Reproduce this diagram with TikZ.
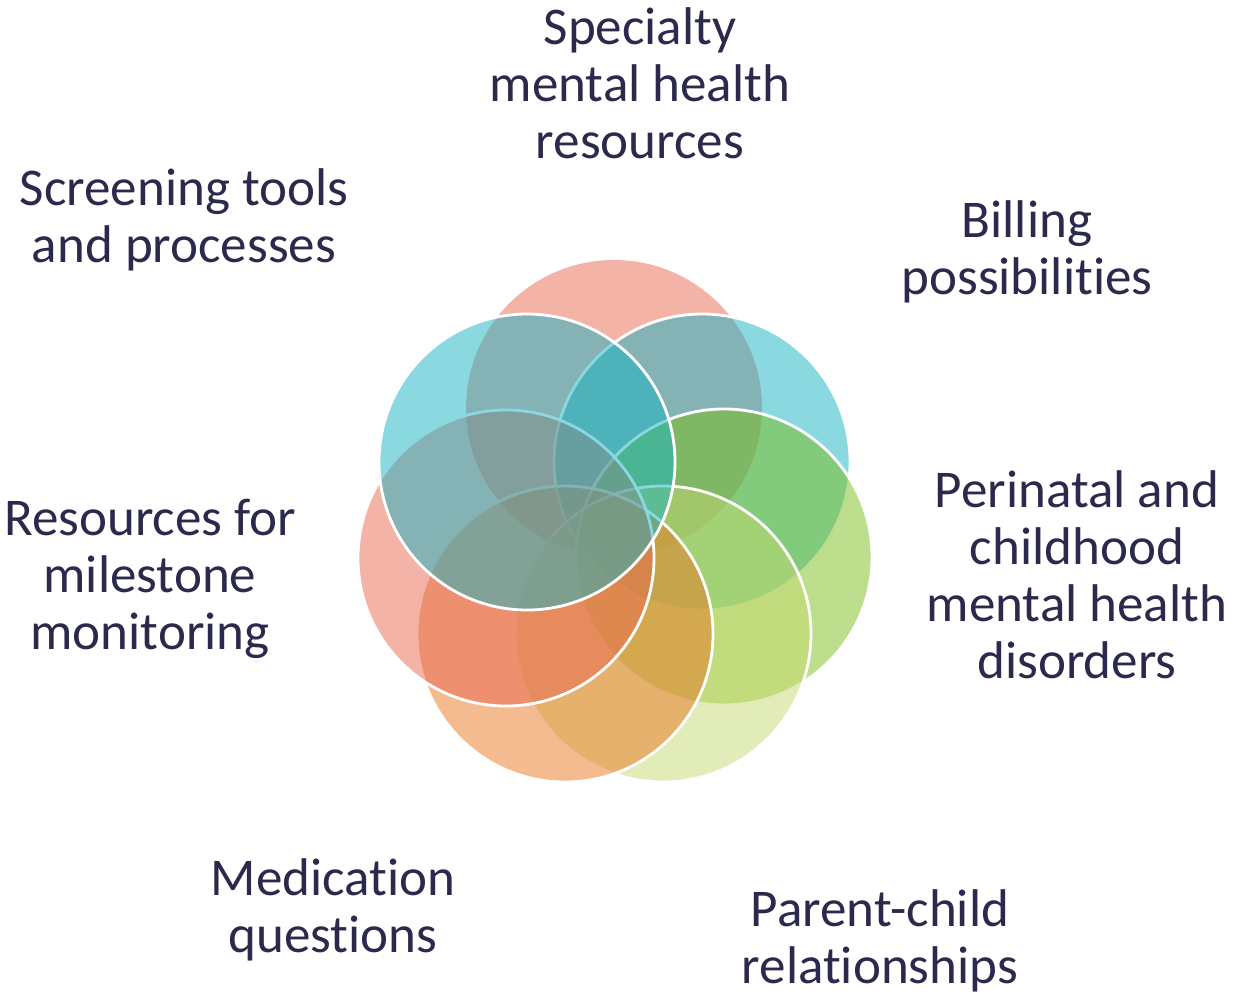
\documentclass[tikz,border=0pt]{standalone}
\usepackage{fontspec}
\setmainfont{Carlito}[RawFeature={-liga;-clig;-calt;-dlig}]
\definecolor{LabelInk}{HTML}{2B2A4D}
\definecolor{VennSalmon}{HTML}{E9674F}
\definecolor{VennCyan}{HTML}{17B3C1}
\definecolor{VennGreen}{HTML}{7BBD19}
\definecolor{VennLime}{HTML}{C5D971}
\definecolor{VennOrange}{HTML}{E97723}
\usetikzlibrary{positioning}

\begin{document}
\begin{tikzpicture}[x=0.2mm, y=-0.2mm,
    ring/.style={circle, minimum size=59.2mm, inner sep=0pt, fill opacity=0.5,
      draw=white, line width=1.6pt},
    topic/.style={anchor=north, align=center, inner sep=0pt, text=LabelInk,
      font=\fontsize{30.2}{32.4}\selectfont}]
  \useasboundingbox (0,0) rectangle (1250,994);
  % petals, clockwise from the top
  \node[ring, fill=VennSalmon, draw=none] (cSpec) at (614,408) {};
  \node[ring, fill=VennCyan]   (cBill)  at (702,462) {};
  \node[ring, fill=VennGreen]  (cPeri)  at (724,557) {};
  \node[ring, fill=VennLime]   (cPar)   at (663,634) {};
  \node[ring, fill=VennOrange] (cMed)   at (565,634) {};
  \node[ring, fill=VennSalmon] (cMile)  at (506,558) {};
  \node[ring, fill=VennCyan]   (cScr)   at (527,462) {};
  % labels
  \node[topic] (specialty) at (640,4) {\strut Specialty\\mental health\\resources};
  \node[topic] (billing) at (1027,197) {\strut Billing\\possibilities};
  \node[topic] (perinatal) at (1077,467) {\strut Perinatal and\\childhood\\mental health\\disorders};
  \node[topic] (parent) at (880,886) {\strut Parent-child\\relationships};
  \node[topic] (medication) at (333,855) {\strut Medication\\questions};
  \node[topic] (milestone) at (150,495) {\strut Resources for\\milestone\\monitoring};
  \node[topic] (screening) at (184,165) {\strut Screening tools\\and processes};
\end{tikzpicture}
\end{document}
